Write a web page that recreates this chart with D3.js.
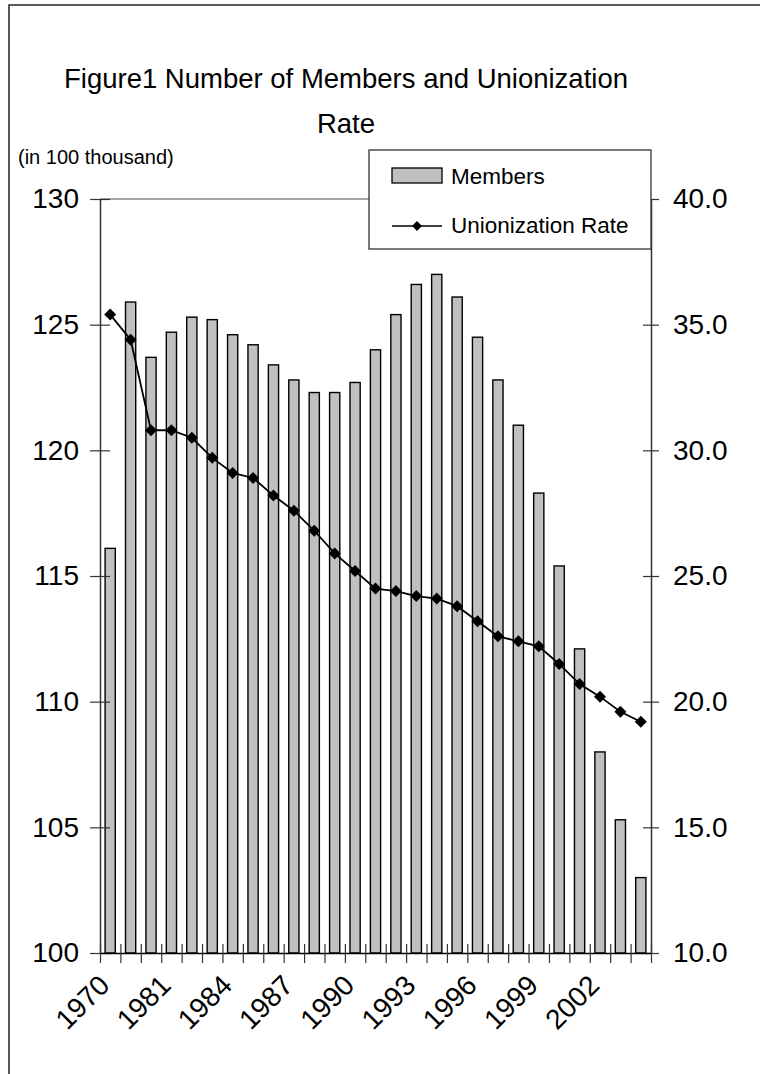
<!DOCTYPE html>
<html>
<head>
<meta charset="utf-8">
<script src="https://cdn.jsdelivr.net/npm/d3@7"></script>
<style>
  html, body { margin: 0; padding: 0; background: #fff; }
  svg { display: block; font-family: "Liberation Sans", Arial, sans-serif; }
</style>
</head>
<body>
<svg id="chart" width="760" height="1074"></svg>
<script>
const years = ["1970","1975","1980","1981","1982","1983","1984","1985","1986","1987","1988","1989","1990","1991","1992","1993","1994","1995","1996","1997","1998","1999","2000","2001","2002","2003","2004"];
const members = [116.1,125.9,123.7,124.7,125.3,125.2,124.6,124.2,123.4,122.8,122.3,122.3,122.7,124.0,125.4,126.6,127.0,126.1,124.5,122.8,121.0,118.3,115.4,112.1,108.0,105.3,103.0];
const unionRate = [35.4,34.4,30.8,30.8,30.5,29.7,29.1,28.9,28.2,27.6,26.8,25.9,25.2,24.5,24.4,24.2,24.1,23.8,23.2,22.6,22.4,22.2,21.5,20.7,20.2,19.6,19.2];
const leftTicks = [100,105,110,115,120,125,130];
const rightTicks = [10,15,20,25,30,35,40];
const shownYears = ["1970","1981","1984","1987","1990","1993","1996","1999","2002"];
const titleLines = ["Figure1 Number of Members and Unionization","Rate"];
const unitLabel = "(in 100 thousand)";
const legendLabels = ["Members","Unionization Rate"];

const svg = d3.select("#chart");
const L = 100, R = 651, T = 199, B = 953;

// outer frame
svg.append("rect").attr("x", 9).attr("y", 5).attr("width", 800).attr("height", 1100)
  .attr("fill", "#fff").attr("stroke", "#222").attr("stroke-width", 1.5);

// title
svg.append("g").selectAll("text").data(titleLines).join("text")
  .attr("x", 346).attr("y", (d, i) => 88 + i * 45)
  .attr("text-anchor", "middle").attr("font-size", 27.5).attr("fill", "#000")
  .text(d => d);

svg.append("text").attr("x", 18).attr("y", 164).attr("font-size", 20).attr("fill", "#000").text(unitLabel);

const x = d3.scaleBand().domain(years).range([L, R]).paddingInner(0.5).paddingOuter(0.25);
const xEdge = d3.scaleLinear().domain([0, years.length]).range([L, R]);
const yL = d3.scaleLinear().domain([100, 130]).range([B, T]);
const yR = d3.scaleLinear().domain([10, 40]).range([B, T]);

// top border line of plot
svg.append("line").attr("x1", L).attr("x2", R).attr("y1", T).attr("y2", T)
  .attr("stroke", "#888").attr("stroke-width", 1.5);

// bars
svg.append("g").selectAll("rect").data(years).join("rect")
  .attr("x", d => x(d)).attr("width", x.bandwidth())
  .attr("y", (d, i) => yL(members[i])).attr("height", (d, i) => B - yL(members[i]))
  .attr("fill", "#c0c0c0").attr("stroke", "#000").attr("stroke-width", 1.4);

// left axis
const gL = svg.append("g").attr("transform", `translate(${L},0)`)
  .call(d3.axisLeft(yL).tickValues(leftTicks).tickSizeInner(10).tickSizeOuter(0).tickPadding(11));
gL.select(".domain").attr("stroke", "#333").attr("stroke-width", 1.5);
gL.selectAll(".tick line").attr("x1", 10).attr("stroke", "#333").attr("stroke-width", 1.2);
gL.selectAll(".tick text").attr("font-size", 28).attr("fill", "#000").attr("font-family", "Liberation Sans, Arial, sans-serif");

// right axis
const gR = svg.append("g").attr("transform", `translate(${R},0)`)
  .call(d3.axisRight(yR).tickValues(rightTicks).tickSizeInner(8).tickSizeOuter(0).tickPadding(14).tickFormat(d3.format(".1f")));
gR.select(".domain").attr("stroke", "#333").attr("stroke-width", 1.5);
gR.selectAll(".tick line").attr("x1", -8).attr("stroke", "#333").attr("stroke-width", 1.2);
gR.selectAll(".tick text").attr("font-size", 28).attr("fill", "#000").attr("font-family", "Liberation Sans, Arial, sans-serif");

// bottom axis (ticks at category boundaries)
const gB = svg.append("g").attr("transform", `translate(0,${B})`)
  .call(d3.axisBottom(xEdge).tickValues(d3.range(0, years.length + 1)).tickSizeInner(10).tickSizeOuter(0).tickFormat(""));
gB.select(".domain").attr("stroke", "#000").attr("stroke-width", 1.5);
gB.selectAll(".tick line").attr("y1", -9).attr("stroke", "#333").attr("stroke-width", 1.2);

// x labels
svg.append("g").selectAll("text").data(shownYears).join("text")
  .attr("transform", d => `translate(${x(d) + x.bandwidth() / 2 + 1},${B + 34}) rotate(-45)`)
  .attr("text-anchor", "end").attr("font-size", 28).attr("fill", "#000")
  .text(d => d);

// line
const cx = d => x(d) + x.bandwidth() / 2;
svg.append("path").datum(years)
  .attr("d", d3.line().x(d => cx(d)).y((d, i) => yR(unionRate[i])))
  .attr("fill", "none").attr("stroke", "#000").attr("stroke-width", 1.8);
const diamond = d3.symbol().type(d3.symbolSquare).size(72);
svg.append("g").selectAll("path").data(years).join("path")
  .attr("d", diamond)
  .attr("transform", (d, i) => `translate(${cx(d)},${yR(unionRate[i])}) rotate(45)`)
  .attr("fill", "#000");

// legend
const lg = svg.append("g");
lg.append("rect").attr("x", 369).attr("y", 150).attr("width", R - 369).attr("height", 99)
  .attr("fill", "#fff").attr("stroke", "#333").attr("stroke-width", 1.3);
lg.append("rect").attr("x", 392).attr("y", 168).attr("width", 50).attr("height", 15)
  .attr("fill", "#c0c0c0").attr("stroke", "#000").attr("stroke-width", 1.3);
lg.append("line").attr("x1", 392).attr("x2", 442).attr("y1", 226).attr("y2", 226)
  .attr("stroke", "#000").attr("stroke-width", 1.6);
lg.append("path").attr("d", d3.symbol().type(d3.symbolSquare).size(50))
  .attr("transform", "translate(417,226) rotate(45)").attr("fill", "#000");
lg.selectAll("text.lab").data(legendLabels).join("text").attr("class", "lab")
  .attr("x", 451).attr("y", (d, i) => 184 + i * 49)
  .attr("font-size", 22.5).attr("fill", "#000").text(d => d);
</script>
</body>
</html>
